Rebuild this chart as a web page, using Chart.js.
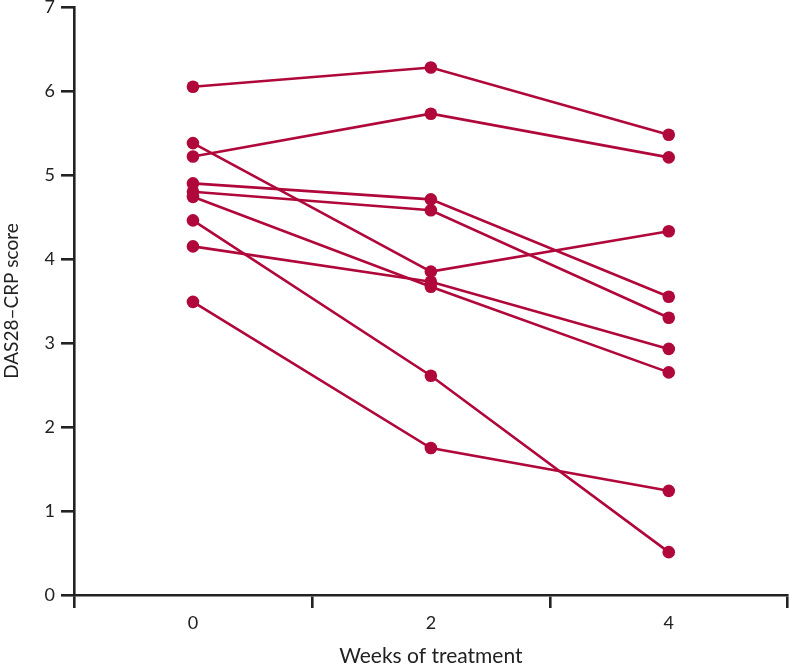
<!DOCTYPE html>
<html>
<head>
<meta charset="utf-8">
<script src="https://cdn.jsdelivr.net/npm/chart.js@4"></script>
<style>
  html, body { margin: 0; padding: 0; background: #fff; overflow: hidden; }
  #wrap { width: 794px; height: 669px; }
</style>
</head>
<body>
<div id="wrap"><canvas id="scoreChart"></canvas></div>
<script>
// DAS28-CRP score per patient at weeks 0, 2 and 4
const weeks = [0, 2, 4];
const week0 = [6.05, 5.22, 5.38, 4.90, 4.80, 4.74, 4.15, 4.46, 3.49];
const week2 = [6.28, 5.73, 3.85, 4.71, 4.58, 3.67, 3.73, 2.61, 1.75];
const week4 = [5.48, 5.21, 4.33, 3.55, 3.30, 2.65, 2.93, 0.51, 1.24];
const yTicks = [0, 1, 2, 3, 4, 5, 6, 7];

const lineColor = '#b0083a';
const axisColor = '#222';
const fontFamily = 'Lato, "Open Sans", sans-serif';

const datasets = week0.map((v, i) => ({
  data: [week0[i], week2[i], week4[i]].map((y, k) => ({ x: weeks[k], y: y })),
  borderColor: lineColor,
  backgroundColor: lineColor,
  borderWidth: 2.6,
  pointRadius: 6.3,
  pointHoverRadius: 6.3,
  pointBorderWidth: 0,
  tension: 0
}));

const isOdd = v => Math.abs(v % 2) === 1;

new Chart(document.getElementById('scoreChart'), {
  type: 'line',
  data: { datasets: datasets },
  options: {
    responsive: true,
    maintainAspectRatio: false,
    animation: false,
    layout: { padding: { top: 7, right: 2, left: 0, bottom: 0 } },
    plugins: {
      legend: { display: false },
      tooltip: { enabled: false }
    },
    scales: {
      x: {
        type: 'linear',
        min: -1,
        max: 5,
        afterFit: s => { s.height = 74; s.paddingLeft = 0; s.paddingRight = 0; },
        border: { display: true, color: axisColor, width: 2.6 },
        grid: {
          drawOnChartArea: false,
          drawTicks: true,
          tickLength: 13,
          lineWidth: 2.6,
          color: c => isOdd(c.tick.value) ? axisColor : 'rgba(0,0,0,0)'
        },
        ticks: {
          stepSize: 1,
          padding: 4,
          color: axisColor,
          font: { family: fontFamily, size: 18 },
          callback: v => isOdd(v) ? '' : String(v)
        },
        title: {
          display: true,
          text: 'Weeks of treatment',
          color: axisColor,
          padding: { top: 0, bottom: 0 },
          font: { family: fontFamily, size: 21 }
        }
      },
      y: {
        min: 0,
        max: 7,
        afterBuildTicks: s => { s.ticks = yTicks.map(v => ({ value: v })); },
        afterFit: s => { s.width = 74; s.paddingTop = 0; s.paddingBottom = 0; },
        border: { display: true, color: axisColor, width: 2.6 },
        grid: {
          drawOnChartArea: false,
          drawTicks: true,
          tickLength: 13,
          lineWidth: 2.6,
          color: axisColor
        },
        ticks: {
          padding: 6,
          color: axisColor,
          font: { family: fontFamily, size: 18 }
        },
        title: {
          display: true,
          text: 'DAS28–CRP score',
          color: axisColor,
          padding: { top: 0, bottom: 0 },
          font: { family: fontFamily, size: 19 }
        }
      }
    }
  }
});
</script>
</body>
</html>
